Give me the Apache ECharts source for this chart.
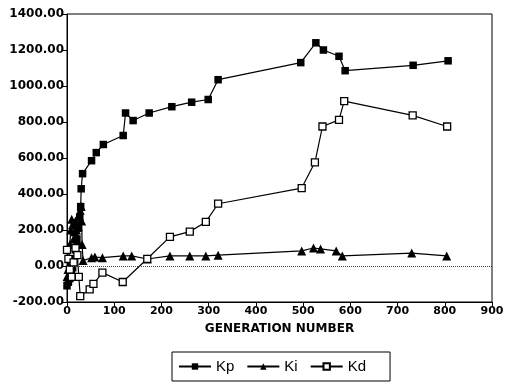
<!DOCTYPE html>
<html><head><meta charset="utf-8">
<script src="https://cdn.jsdelivr.net/npm/echarts@6/dist/echarts.min.js"></script>
<style>html,body{margin:0;padding:0;background:#fff}#c{width:512px;height:387px}</style>
</head><body><div id="c"></div>
<script>
const xTicks = [0,100,200,300,400,500,600,700,800,900];
const yTicks = [-200,0,200,400,600,800,1000,1200,1400];
const kpGen = [0,3,6,9,12,15,18,21,24,27,29,30,33,52,62,77,119,124,140,174,222,264,299,320,495,527,543,576,589,733,807];
const kpVal = [-110,-90,-70,-40,-10,40,90,150,210,270,330,429,513,585,630,675,725,850,808,850,885,910,925,1035,1130,1240,1200,1165,1085,1115,1140];
const kiGen = [0,2,4,6,8,10,12,14,16,18,20,22,24,26,28,30,31,32,34,52,59,75,119,137,170,218,260,294,320,497,522,537,570,583,730,804];
const kiVal = [-60,-20,40,120,200,260,230,150,190,250,200,140,220,280,310,330,250,120,30,46,50,46,56,56,39,56,56,56,60,84,100,95,84,56,72,56];
const kdGen = [0,3,6,10,14,18,22,25,28,48,56,75,118,170,218,260,294,320,497,525,541,576,587,732,805];
const kdVal = [90,40,-20,-60,20,100,60,-60,-167,-130,-99,-37,-89,40,162,191,245,346,433,576,775,812,916,837,775];

const zip = (a,b) => a.map((v,i)=>[v,b[i]]);
const chart = echarts.init(document.getElementById('c'));
const lineStyle = {color:'#000', width:1.2};
chart.setOption({
  animation:false,
  backgroundColor:'#fff',
  grid:{left:67,right:20,top:14,bottom:85,show:true,borderColor:'#000',borderWidth:1},
  legend:{
    left:172, top:352,
    orient:'horizontal',
    borderColor:'#000', borderWidth:1, padding:[7,24,7,6],
    itemWidth:32, itemHeight:8, itemGap:12,
    textStyle:{fontFamily:'Liberation Sans',fontSize:15,color:'#000'},
    data:['Kp','Ki','Kd']
  },
  xAxis:{
    type:'value',min:0,max:900,interval:100,
    name:'GENERATION NUMBER',nameLocation:'middle',nameGap:21,
    nameTextStyle:{fontFamily:'DejaVu Sans',fontWeight:'bold',fontSize:12,color:'#000'},
    axisLine:{show:true,onZero:false,lineStyle:{color:'#000',width:1}},
    axisTick:{show:true,inside:false,length:4,lineStyle:{color:'#000'}},
    axisLabel:{fontFamily:'DejaVu Sans',fontWeight:'bold',fontSize:11,color:'#000',margin:4,
      formatter:v=>xTicks.includes(v)?String(v):''},
    splitLine:{show:false}
  },
  yAxis:{
    type:'value',min:-200,max:1400,interval:200,
    axisLine:{show:true,onZero:false,lineStyle:{color:'#000',width:1}},
    axisTick:{show:true,inside:false,length:4,lineStyle:{color:'#000'}},
    axisLabel:{fontFamily:'DejaVu Sans',fontWeight:'bold',fontSize:12,color:'#000',margin:3,
      formatter:v=>yTicks.includes(v)?v.toFixed(2):''},
    splitLine:{show:false}
  },
  series:[
    {name:'Kp',type:'line',data:zip(kpGen,kpVal),symbol:'rect',symbolSize:7.5,
     itemStyle:{color:'#000'},lineStyle,
     markLine:{silent:true,symbol:'none',label:{show:false},
       lineStyle:{color:'#444',type:'dotted',width:1},data:[{yAxis:0}]}},
    {name:'Ki',type:'line',data:zip(kiGen,kiVal),symbol:'triangle',symbolSize:9,
     itemStyle:{color:'#000'},lineStyle},
    {name:'Kd',type:'line',data:zip(kdGen,kdVal),symbol:'rect',symbolSize:7,
     itemStyle:{color:'#fff',borderColor:'#000',borderWidth:1.3},lineStyle}
  ]
});
</script></body></html>
